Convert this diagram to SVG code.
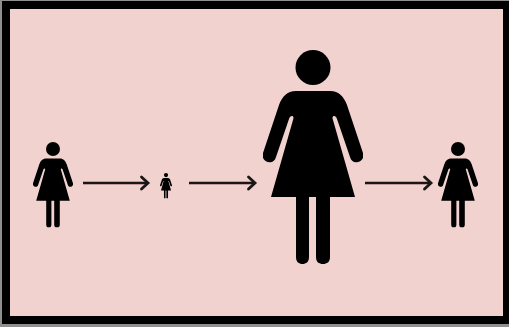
<svg xmlns="http://www.w3.org/2000/svg" width="509" height="327" viewBox="0 0 509 327">
<style>
.conn{fill:none;stroke:#1a1414;stroke-width:2.6;marker-end:url(#chev);filter:url(#soft)}
.fig{fill:#000;filter:url(#soft)}
</style>
<defs>
<filter id="soft" x="-20%" y="-20%" width="140%" height="140%" filterUnits="userSpaceOnUse" primitiveUnits="userSpaceOnUse">
<feGaussianBlur stdDeviation="0.45"/>
</filter>
<marker id="chev" markerUnits="userSpaceOnUse" markerWidth="16" markerHeight="18" refX="12" refY="9" orient="auto">
<path d="M5.500 3L12 9L5.500 15" fill="none" stroke="#1a1414" stroke-width="2.8" stroke-linecap="round"/>
</marker>
<symbol id="woman" viewBox="263 50 100 214" width="100" height="214" preserveAspectRatio="none">
<circle cx="313" cy="67.500" r="17.500"/>
<path d="M296 91H330C339 91 344 97 347 105L363 153C364.500 157 362 161 358 162C354 163 351 161 350 157L337 119C336 115 331 115 333 120L355 197H330V257C330 262 327 264 323 264C319 264 316 262 316 257V197H309V257C309 262 306 264 302.500 264C299 264 296 262 296 257V197H271L293 120C295 115 290 115 289 119L276 157C275 161 272 163 268 162C264 161 261.500 157 263 153L279 105C282 97 287 91 296 91Z"/>
</symbol>
</defs>
<rect id="frame" x="0" y="0" width="509" height="327" fill="#8f8f8f"/>
<rect x="2" y="1" width="507" height="323" fill="#000"/>
<rect id="panel" x="10" y="9" width="493" height="307" fill="#f1d2cf"/>
<g id="connectors">
<path class="conn" d="M83 183H148"/>
<path class="conn" d="M189 183H255"/>
<path class="conn" d="M365 183H431"/>
</g>
<g id="woman-start" class="fig"><use href="#woman" x="33" y="142" width="40" height="85.500"/></g>
<g id="woman-tiny" class="fig"><use href="#woman" x="160" y="173" width="12" height="25.500"/></g>
<g id="woman-large" class="fig"><use href="#woman" x="263" y="50" width="100" height="214"/></g>
<g id="woman-end" class="fig"><use href="#woman" x="438" y="142" width="40" height="85.500"/></g>
</svg>
